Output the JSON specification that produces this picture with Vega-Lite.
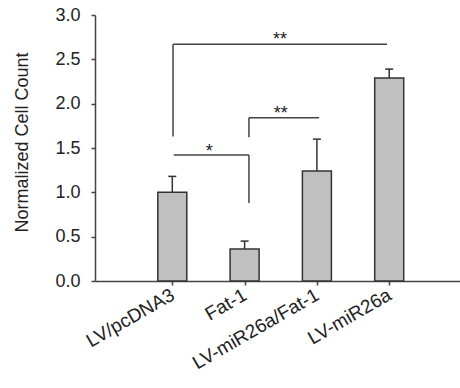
{
  "$schema": "https://vega.github.io/schema/vega-lite/v6.json",
  "width": 365,
  "height": 266,
  "autosize": {"type": "none"},
  "padding": {"left": 95, "top": 15, "right": 0, "bottom": 107},
  "background": "white",
  "config": {
    "view": {"stroke": null},
    "font": "Liberation Sans",
    "axis": {
      "grid": false,
      "domainColor": "#444444",
      "domainWidth": 1.5,
      "tickColor": "#444444",
      "tickWidth": 1.5,
      "tickSize": 4,
      "labelColor": "#222222",
      "labelFont": "Liberation Sans",
      "labelFontSize": 18,
      "titleFont": "Liberation Sans",
      "titleFontWeight": "normal",
      "titleColor": "#222222"
    }
  },
  "datasets": {
    "bars": [
      {"label": "LV/pcDNA3", "pos": 1, "value": 1.0, "err": 1.18},
      {"label": "Fat-1", "pos": 2, "value": 0.36, "err": 0.45},
      {"label": "LV-miR26a/Fat-1", "pos": 3, "value": 1.24, "err": 1.6},
      {"label": "LV-miR26a", "pos": 4, "value": 2.29, "err": 2.39}
    ],
    "brackets": [
      {"pos": 1.01, "pos2": 3.97, "value": 2.67, "value2": 2.67},
      {"pos": 1.01, "pos2": 1.01, "value": 1.63, "value2": 2.67},
      {"pos": 2.06, "pos2": 3.03, "value": 1.84, "value2": 1.84},
      {"pos": 2.06, "pos2": 2.06, "value": 1.62, "value2": 1.84},
      {"pos": 1.02, "pos2": 2.06, "value": 1.42, "value2": 1.42},
      {"pos": 2.06, "pos2": 2.06, "value": 0.88, "value2": 1.42}
    ],
    "stars": [
      {"pos": 2.49, "value": 2.78, "text": "**"},
      {"pos": 2.5, "value": 1.94, "text": "**"},
      {"pos": 1.51, "value": 1.51, "text": "*"}
    ]
  },
  "encoding": {
    "x": {
      "field": "pos", "type": "quantitative",
      "scale": {"domain": [0, 4.91], "nice": false, "zero": false},
      "axis": {
        "title": null,
        "values": [1, 2, 3, 4],
        "labelExpr": "['','LV/pcDNA3','Fat-1','LV-miR26a/Fat-1','LV-miR26a'][datum.value]",
        "labelAngle": -30,
        "labelAlign": "right",
        "labelBaseline": "middle",
        "labelFontSize": 19,
        "labelPadding": 8,
        "labelOverlap": false,
        "labelBound": false,
        "labelFlush": false
      }
    },
    "y": {
      "field": "value", "type": "quantitative",
      "scale": {"domain": [0, 3], "nice": false},
      "axis": {
        "title": "Normalized Cell Count",
        "titleFontSize": 18,
        "titleX": -68,
        "titleY": 127,
        "titleAngle": -90,
        "titleAlign": "center",
        "titleBaseline": "alphabetic",
        "values": [0, 0.5, 1, 1.5, 2, 2.5, 3],
        "format": ".1f",
        "labelPadding": 11
      }
    }
  },
  "layer": [
    {
      "data": {"name": "bars"},
      "mark": {"type": "bar", "size": 29, "fill": "#c0c0c0", "stroke": "#333333", "strokeWidth": 1.5}
    },
    {
      "data": {"name": "bars"},
      "mark": {"type": "rule", "stroke": "#333333", "strokeWidth": 1.5},
      "encoding": {
        "y2": {"field": "err"}
      }
    },
    {
      "data": {"name": "bars"},
      "mark": {"type": "tick", "orient": "horizontal", "size": 8, "thickness": 1.5, "color": "#333333", "opacity": 1},
      "encoding": {
        "y": {"field": "err", "type": "quantitative", "title": "Normalized Cell Count"}
      }
    },
    {
      "data": {"name": "brackets"},
      "mark": {"type": "rule", "stroke": "#444444", "strokeWidth": 1.5},
      "encoding": {
        "x2": {"field": "pos2"},
        "y2": {"field": "value2"}
      }
    },
    {
      "data": {"name": "stars"},
      "mark": {"type": "text", "fontSize": 18, "baseline": "middle", "align": "center", "dy": 5, "color": "#222222", "font": "Liberation Sans"},
      "encoding": {
        "text": {"field": "text"}
      }
    }
  ]
}
